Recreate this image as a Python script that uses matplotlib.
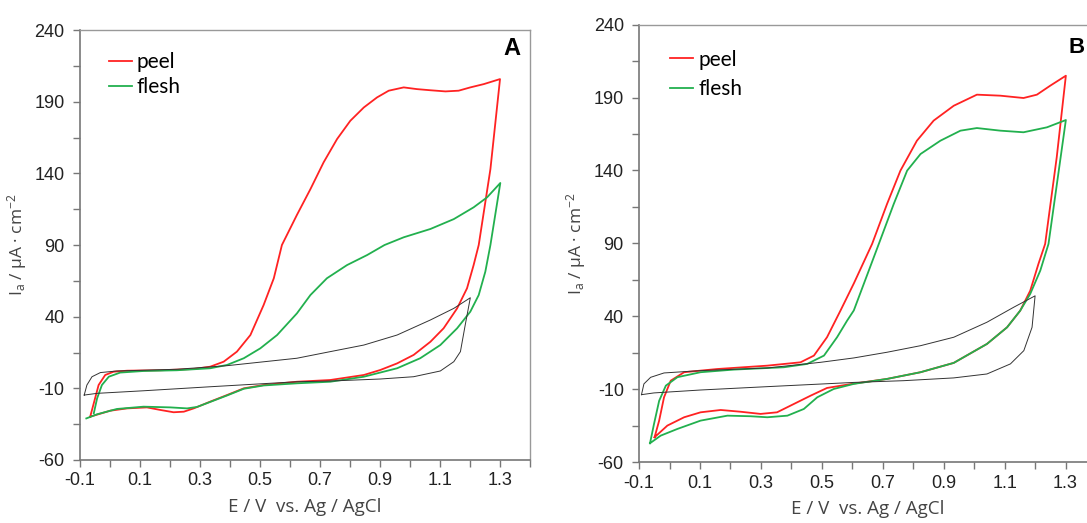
import numpy as np
import matplotlib
matplotlib.use("Agg")
import matplotlib.pyplot as plt

plt.rcParams["mathtext.default"] = "regular"

# ── Panel A: cyclic voltammograms (potential V, current uA/cm2) ──────────────
a_peel_e = [-0.066, -0.038, -0.016, 0.012, 0.057, 0.168, 0.279, 0.334, 0.379, 0.423,
            0.468, 0.512, 0.546, 0.573, 0.623, 0.668, 0.712, 0.757, 0.801, 0.846,
            0.890, 0.929, 0.979, 1.023, 1.068, 1.118, 1.162, 1.201, 1.246, 1.300,
            1.268, 1.229, 1.212, 1.190, 1.157, 1.112, 1.068, 1.012, 0.957, 0.901,
            0.846, 0.734, 0.623, 0.512, 0.446, 0.390, 0.334, 0.279, 0.246, 0.212,
            0.168, 0.123, 0.057, 0.001, -0.066]
a_peel_i = [-29.8, -7.7, -0.7, 1.6, 2.3, 2.6, 3.5, 5.1, 8.6, 15.6,
            27.2, 48.1, 66.8, 90.0, 111.0, 129.0, 147.7, 164.0, 176.7, 186.0,
            193.0, 197.7, 200.0, 198.8, 198.0, 197.2, 197.7, 200.0, 202.3, 205.8,
            143.0, 90.0, 76.0, 59.8, 45.8, 31.9, 22.5, 13.3, 7.4, 2.8,
            -0.7, -4.2, -5.4, -7.7, -10.0, -14.7, -19.3, -24.0, -26.3, -26.7,
            -25.1, -23.3, -24.0, -25.6, -29.8]

a_flesh_e = [-0.054, -0.043, -0.027, -0.004, 0.034, 0.112, 0.223, 0.334, 0.390, 0.446,
             0.501, 0.557, 0.623, 0.668, 0.723, 0.790, 0.857, 0.915, 0.979, 1.068,
             1.146, 1.212, 1.257, 1.301,
             1.268, 1.251, 1.229, 1.201, 1.157, 1.101, 1.034, 0.957, 0.846, 0.734,
             0.623, 0.512, 0.446, 0.390, 0.334, 0.290, 0.257, 0.201, 0.112, 0.023,
             -0.043, -0.079]
a_flesh_i = [-27.4, -17.0, -7.7, -1.9, 1.0, 2.1, 2.6, 4.0, 6.3, 11.0,
             17.9, 27.2, 42.3, 55.1, 66.8, 76.0, 83.0, 90.0, 95.4, 101.2,
             108.1, 116.3, 123.3, 133.3,
             90.0, 71.4, 55.1, 43.5, 31.9, 20.2, 11.0, 4.0, -1.9, -5.4,
             -6.5, -8.0, -10.3, -15.0, -19.5, -23.0, -24.0, -23.3, -22.8, -24.4,
             -28.1, -31.0]

a_blank_e = [-0.086, -0.077, -0.060, -0.032, 0.023, 0.223, 0.390, 0.623, 0.734, 0.846,
             0.957, 1.068, 1.146, 1.201,
             1.184, 1.168, 1.146, 1.101, 1.012, 0.901, 0.734, 0.623, 0.334, 0.112,
             -0.043, -0.086]
a_blank_i = [-14.7, -7.7, -1.9, 1.0, 2.1, 3.3, 5.8, 11.0, 15.6, 20.2,
             27.2, 37.7, 45.8, 53.2,
             34.2, 15.6, 8.6, 2.1, -1.9, -3.5, -4.9, -5.4, -8.9, -11.7,
             -13.5, -14.7]

# ── Panel B ──────────────────────────────────────────────────────────────────
b_peel_e = [-0.049, -0.034, -0.018, 0.004, 0.048, 0.157, 0.321, 0.430, 0.474, 0.517,
            0.561, 0.605, 0.665, 0.714, 0.758, 0.812, 0.867, 0.933, 1.009, 1.086,
            1.162, 1.206, 1.250, 1.301,
            1.271, 1.233, 1.211, 1.184, 1.151, 1.108, 1.042, 0.933, 0.824, 0.714,
            0.605, 0.517, 0.463, 0.408, 0.353, 0.299, 0.233, 0.168, 0.102, 0.048,
            -0.007, -0.049]
b_peel_i = [-43.0, -31.6, -15.6, -4.2, 1.6, 3.8, 6.1, 8.4, 13.0, 25.6,
            43.8, 62.5, 89.6, 117.0, 139.9, 160.4, 174.2, 184.4, 192.0, 191.3,
            189.7, 192.0, 198.2, 205.0,
            149.0, 89.6, 75.9, 57.5, 43.8, 32.4, 21.0, 8.0, 1.6, -3.0,
            -6.2, -9.2, -14.5, -20.2, -25.9, -27.0, -25.5, -24.3, -25.9, -29.3,
            -35.0, -43.0]

b_flesh_e = [-0.064, -0.051, -0.034, -0.012, 0.026, 0.102, 0.211, 0.375, 0.452, 0.507,
             0.550, 0.583, 0.605, 0.687, 0.736, 0.780, 0.824, 0.889, 0.955, 1.009,
             1.086, 1.162, 1.239, 1.301,
             1.244, 1.217, 1.184, 1.151, 1.108, 1.042, 0.933, 0.824, 0.714, 0.605,
             0.539, 0.485, 0.441, 0.387, 0.321, 0.266, 0.190, 0.102, 0.026, -0.029,
             -0.064]
b_flesh_i = [-47.1, -34.0, -18.0, -7.6, -1.8, 1.6, 3.4, 5.0, 7.3, 13.0,
             25.6, 37.0, 44.0, 89.6, 117.0, 139.9, 151.3, 160.4, 167.3, 169.1,
             167.3, 166.2, 169.6, 174.6,
             89.6, 71.3, 55.3, 43.8, 32.4, 21.0, 8.0, 1.6, -3.0, -6.4,
             -9.9, -15.6, -23.6, -28.2, -29.3, -28.6, -28.2, -31.6, -37.3, -41.9,
             -47.1]

b_blank_e = [-0.092, -0.084, -0.062, -0.018, 0.102, 0.321, 0.496, 0.605, 0.714, 0.824,
             0.933, 1.042, 1.130, 1.200,
             1.190, 1.163, 1.119, 1.042, 0.933, 0.769, 0.605, 0.321, 0.102, -0.051,
             -0.092]
b_blank_i = [-13.8, -6.4, -1.9, 1.1, 2.7, 4.5, 8.4, 11.4, 15.3, 19.8,
             25.6, 35.9, 46.2, 54.0,
             32.4, 16.4, 7.3, 0.4, -2.3, -4.2, -5.4, -8.3, -10.6, -12.6,
             -13.8]

x_major = [-0.1, 0.1, 0.3, 0.5, 0.7, 0.9, 1.1, 1.3]
y_major = [-60, -10, 40, 90, 140, 190, 240]

RED = "#ff2222"
GREEN = "#22b04e"
TICK_FONT = "Liberation Sans"
LABEL_FONT = "Open Sans"


def style_axes(ax, tag, tag_xy, tag_size, leg_xy, leg_spacing):
    ax.set_xlim(-0.1, 1.4)
    ax.set_ylim(-60, 240)
    ax.set_xticks(x_major)
    ax.set_xticks(np.arange(0.0, 1.45, 0.2), minor=True)
    ax.set_yticks(y_major)
    ax.set_yticks(np.arange(-35, 240, 50), minor=True)
    ax.set_xticklabels([f"{v:.1f}" for v in x_major], fontfamily=TICK_FONT, fontsize=13)
    ax.set_yticklabels([str(v) for v in y_major], fontfamily=TICK_FONT, fontsize=13)
    ax.tick_params(which="both", direction="out", length=5, width=1, color="#777777",
                   labelcolor="#222222")
    ax.tick_params(axis="y", pad=6)
    ax.tick_params(axis="x", pad=4)
    for side in ("left", "bottom"):
        ax.spines[side].set_color("#777777")
        ax.spines[side].set_linewidth(1.2)
    for side in ("top", "right"):
        ax.spines[side].set_color("#999999")
        ax.spines[side].set_linewidth(1.0)
    ax.set_xlabel("E / V  vs. Ag / AgCl", fontfamily=LABEL_FONT, fontsize=13.5,
                  color="#444444", labelpad=6)
    ax.set_ylabel(r"I$_{a}$ / µA · cm$^{-2}$", fontfamily=LABEL_FONT, fontsize=12.5,
                  color="#444444", labelpad=4)
    ax.text(tag_xy[0], tag_xy[1], tag, transform=ax.transAxes, ha="right", va="top",
            fontfamily=TICK_FONT, fontweight="bold", fontsize=tag_size)
    ax.legend(loc="upper left", bbox_to_anchor=leg_xy, frameon=False,
              borderaxespad=0, borderpad=0,
              handlelength=1.1, handletextpad=0.25, labelspacing=leg_spacing,
              prop={"family": "Lato", "size": 15})


fig = plt.figure(figsize=(10.87, 5.23), dpi=100)
ax_a = fig.add_axes([0.0736, 0.1205, 0.414, 0.822])
ax_b = fig.add_axes([0.5879, 0.1166, 0.4204, 0.8362])

ax_a.plot(a_peel_e, a_peel_i, color=RED, lw=1.3, label="peel")
ax_a.plot(a_flesh_e, a_flesh_i, color=GREEN, lw=1.3, label="flesh")
ax_a.plot(a_blank_e, a_blank_i, color="#333333", lw=0.7)
style_axes(ax_a, "A", (0.978, 0.984), 17, (0.064, 0.949), 0.25)

ax_b.plot(b_peel_e, b_peel_i, color=RED, lw=1.3, label="peel")
ax_b.plot(b_flesh_e, b_flesh_i, color=GREEN, lw=1.3, label="flesh")
ax_b.plot(b_blank_e, b_blank_i, color="#333333", lw=0.7)
style_axes(ax_b, "B", (0.974, 0.9725), 16, (0.068, 0.943), 0.45)

fig.savefig("out.png", dpi=100)
